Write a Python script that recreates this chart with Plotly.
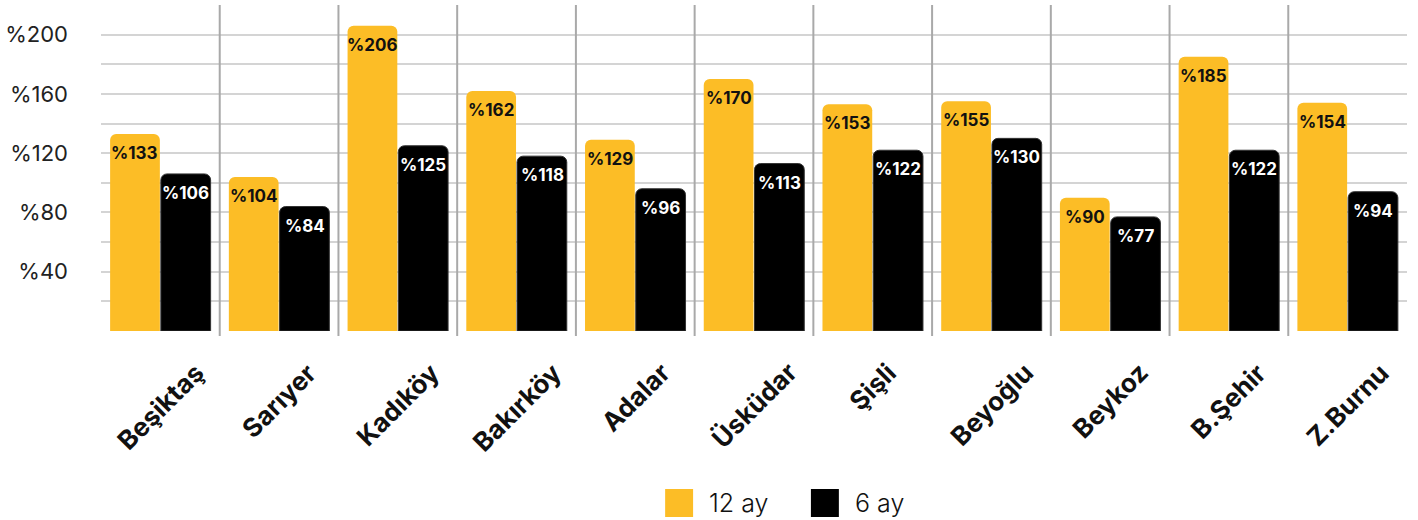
import plotly.graph_objects as go

categories = ["Beşiktaş", "Sarıyer", "Kadıköy", "Bakırköy", "Adalar", "Üsküdar",
              "Şişli", "Beyoğlu", "Beykoz", "B.Şehir", "Z.Burnu"]
series_12_name = "12 ay"
series_6_name = "6 ay"
values_12 = [133, 104, 206, 162, 129, 170, 153, 155, 90, 185, 154]
values_6 = [106, 84, 125, 118, 96, 113, 122, 130, 77, 122, 94]
y_tick_vals = [40, 80, 120, 160, 200]
y_tick_text = ["%" + str(v) for v in y_tick_vals]

YELLOW = "#FCBD26"
BLACK = "#000000"
FONT = "Inter"

fig = go.Figure()
fig.add_trace(go.Bar(
    x=categories, y=values_12, name=series_12_name,
    marker=dict(color=YELLOW, line=dict(width=0)),
    showlegend=False,
))
fig.add_trace(go.Bar(
    x=categories, y=values_6, name=series_6_name,
    marker=dict(color=BLACK, line=dict(width=1, color="#333333")),
    showlegend=False,
))

annotations = []
# value labels inside the top of each bar
for vals, shift, col in [(values_12, -25.5, "#111111"), (values_6, 25.5, "#ffffff")]:
    for c, v in zip(categories, vals):
        annotations.append(dict(x=c, y=v, xref="x", yref="y", text="%" + str(v),
                                showarrow=False, xanchor="center", yanchor="top",
                                xshift=shift, yshift=-7,
                                font=dict(family=FONT, size=17, color=col, weight="bold")))

shapes = []
for i in range(1, len(categories)):
    shapes.append(dict(type="line", xref="x", yref="paper", x0=i - 0.5, x1=i - 0.5,
                       y0=-0.015, y1=1, line=dict(color="#a9a9a9", width=2), layer="above"))

for c in categories:
    annotations.append(dict(x=c, y=0, xref="x", yref="paper", text=c, showarrow=False,
                            textangle=-45, xanchor="center", yanchor="top", yshift=-23,
                            font=dict(family=FONT, size=26, color="#111111", weight="bold")))

# custom legend (below plot)
legend_items = [(series_12_name, YELLOW, 664), (series_6_name, BLACK, 810)]
for name, col, px in legend_items:
    x0 = (px - 99) / 1308
    x1 = (px + 28 - 99) / 1308
    shapes.append(dict(type="rect", xref="paper", yref="paper", x0=x0, x1=x1,
                       y0=(331 - 517) / 326, y1=(331 - 489) / 326,
                       fillcolor=col, line=dict(width=0)))
    annotations.append(dict(x=(px + 42 - 99) / 1308, y=(331 - 503) / 326, xref="paper", yref="paper",
                            text=name, showarrow=False, xanchor="left", yanchor="middle",
                            font=dict(family=FONT, size=25, color="#111111", weight=300)))

fig.update_layout(
    width=1418, height=520,
    margin=dict(l=99, r=11, t=5, b=189),
    paper_bgcolor="white", plot_bgcolor="white",
    barmode="group", bargap=0.145, bargroupgap=0.02,
    barcornerradius=6,
    showlegend=False,
    shapes=shapes, annotations=annotations,
    xaxis=dict(type="category", showticklabels=False, showgrid=False, zeroline=False,
               showline=False, ticks=""),
    yaxis=dict(range=[0, 220], tickvals=y_tick_vals, ticktext=y_tick_text,
               showgrid=True, gridcolor="#d4d4d4", gridwidth=1.5,
               minor=dict(dtick=20, tick0=0, showgrid=True, gridcolor="#d4d4d4", gridwidth=1.5),
               zeroline=False, showline=False, ticks="", ticklabelstandoff=32,
               tickfont=dict(family=FONT, size=22, color="#222222")),
)

fig.write_html("out.html")
